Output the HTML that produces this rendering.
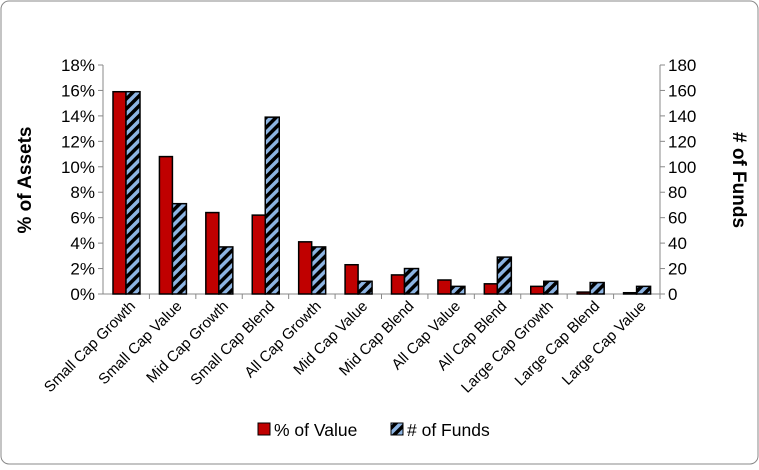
<!DOCTYPE html>
<html><head><meta charset="utf-8"><style>
body{margin:0;background:#fff;}
svg text{font-family:"Liberation Sans",sans-serif;fill:#000;}
</style></head><body>
<svg width="759" height="465" xmlns="http://www.w3.org/2000/svg">
<defs>
<pattern id="hatch" patternUnits="userSpaceOnUse" width="7" height="7" patternTransform="rotate(45)">
<rect width="7" height="7" fill="#000"/><rect width="3.5" height="7" fill="#8db4e2"/>
</pattern>
</defs>
<rect x="1" y="1" width="757" height="463" rx="8" fill="#fff" stroke="#888"/>
<g id="chart"></g>
<text transform="translate(31,180) rotate(-90)" text-anchor="middle" font-size="19" font-weight="bold">% of Assets</text>
<text transform="translate(733,180) rotate(90)" text-anchor="middle" font-size="19" font-weight="bold"># of Funds</text>
<g>
<rect x="258" y="423" width="12" height="12" fill="#c00000" stroke="#000"/>
<text x="274" y="436" font-size="17.5">% of Value</text>
<rect x="391" y="423" width="12" height="12" fill="url(#hatch)" stroke="#000"/>
<text x="407" y="436" font-size="17.5"># of Funds</text>
</g>
</svg>
<script>
const categories=["Small Cap Growth","Small Cap Value","Mid Cap Growth","Small Cap Blend","All Cap Growth","Mid Cap Value","Mid Cap Blend","All Cap Value","All Cap Blend","Large Cap Growth","Large Cap Blend","Large Cap Value"];
const pctValue=[15.9,10.8,6.4,6.2,4.1,2.3,1.5,1.1,0.8,0.6,0.15,0.1];
const numFunds=[159,71,37,139,37,10,20,6,29,10,9,6];
const leftTicks=["0%","2%","4%","6%","8%","10%","12%","14%","16%","18%"];
const rightTicks=["0","20","40","60","80","100","120","140","160","180"];
const NS="http://www.w3.org/2000/svg";
const g=document.getElementById("chart");
const X0=103,X1=660,Y0=294,Y1=65;
const bw=(X1-X0)/categories.length;
const yL=v=>Y0-(v/18)*(Y0-Y1);
const yR=v=>Y0-(v/180)*(Y0-Y1);
function mk(t,a){const e=document.createElementNS(NS,t);for(const k in a)e.setAttribute(k,a[k]);g.appendChild(e);return e;}
let e;
leftTicks.forEach((t,i)=>{const y=Y0-i*(Y0-Y1)/9;
e=mk("line",{x1:X0-5,x2:X0,y1:y,y2:y,stroke:"#888"});


e=mk("text",{x:X0-8,y:y+6,"text-anchor":"end","font-size":"17"});e.textContent=t;


e=mk("line",{x1:X1,x2:X1+5,y1:y,y2:y,stroke:"#888"});


e=mk("text",{x:X1+8,y:y+6,"text-anchor":"start","font-size":"17"});e.textContent=rightTicks[i];


});
e=mk("line",{x1:X0,x2:X0,y1:Y1,y2:Y0,stroke:"#888"});


e=mk("line",{x1:X1,x2:X1,y1:Y1,y2:Y0,stroke:"#888"});


e=mk("line",{x1:X0,x2:X1,y1:Y0,y2:Y0,stroke:"#888"});


categories.forEach((c,i)=>{
const x=X0+i*bw;
e=mk("line",{x1:x+bw,x2:x+bw,y1:Y0,y2:Y0+5,stroke:"#888"});


e=mk("rect",{x:x+10,y:yL(pctValue[i]),width:13,height:Y0-yL(pctValue[i]),fill:"#c00000",stroke:"#000","stroke-width":"1.5"});


e=mk("rect",{x:x+23,y:yR(numFunds[i]),width:14,height:Y0-yR(numFunds[i]),fill:"url(#hatch)",stroke:"#000","stroke-width":"1.5"});


const cx=x+bw/2+10;
e=mk("text",{x:cx,y:Y0+13,"text-anchor":"end","font-size":"15",transform:`rotate(-45 ${cx} ${Y0+13})`});e.textContent=c;


});
</script>
</body></html>
